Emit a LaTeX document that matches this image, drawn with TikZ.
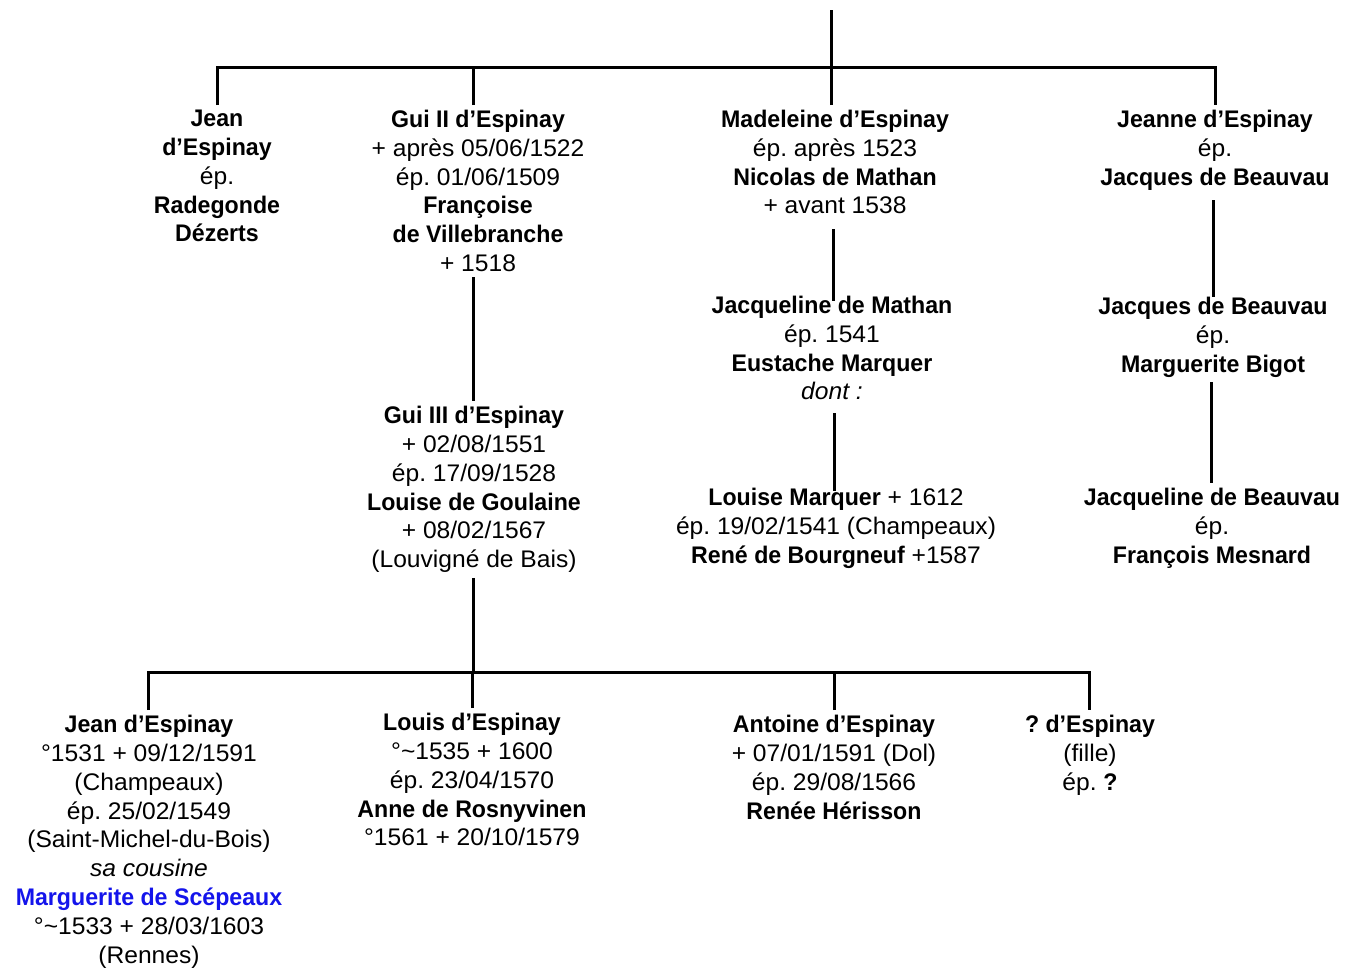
\documentclass[tikz,border=0pt]{standalone}
\usepackage{fontspec}
\setmainfont{Liberation Sans}[FakeStretch=1.025,BoldFeatures={FakeStretch=0.965}]
\frenchspacing
\definecolor{cousineblue}{RGB}{20,20,235}

\begin{document}
\begin{tikzpicture}[x=1pt,y=-1pt,
        person/.style={anchor=north,align=center,inner xsep=0pt,inner ysep=5pt,
            font=\fontsize{24}{28.8}\selectfont},
        link/.style={line width=3pt}]
        \useasboundingbox (0,0) rectangle (1346,967);
        % children of the cut-off couple
        \node[person] (jean) at (217,105) {\textbf{Jean}\\\textbf{d’Espinay}\\ép.\\\textbf{Radegonde}\\\textbf{Dézerts}};
        \node[person] (gui2) at (478,105) {\textbf{Gui II d’Espinay}\\+ après 05/06/1522\\ép. 01/06/1509\\\textbf{Françoise}\\\textbf{de Villebranche}\\+ 1518};
        \node[person] (madeleine) at (835,105) {\textbf{Madeleine d’Espinay}\\ép. après 1523\\\textbf{Nicolas de Mathan}\\+ avant 1538};
        \node[person] (jeanne) at (1215,105) {\textbf{Jeanne d’Espinay}\\ép.\\\textbf{Jacques de Beauvau}};
        % next generations
        \node[person] (gui3) at (474,401) {\textbf{Gui III d’Espinay}\\+ 02/08/1551\\ép. 17/09/1528\\\textbf{Louise de Goulaine}\\+ 08/02/1567\\(Louvigné de Bais)};
        \node[person] (jmathan) at (832,291) {\textbf{Jacqueline de Mathan}\\ép. 1541\\\textbf{Eustache Marquer}\\\textit{dont :}};
        \node[person] (louise) at (836,483) {\textbf{Louise Marquer} + 1612\\ép. 19/02/1541 (Champeaux)\\\textbf{René de Bourgneuf} +1587};
        \node[person] (jacques) at (1213,292) {\textbf{Jacques de Beauvau}\\ép.\\\textbf{Marguerite Bigot}};
        \node[person] (jbeauvau) at (1212,483) {\textbf{Jacqueline de Beauvau}\\ép.\\\textbf{François Mesnard}};
        % children of Gui III
        \node[person] (jean2) at (149,710) {\textbf{Jean d’Espinay}\\°1531 + 09/12/1591\\(Champeaux)\\ép. 25/02/1549\\(Saint-Michel-du-Bois)\\\textit{sa cousine}\\\textcolor{cousineblue}{\textbf{Marguerite de Scépeaux}}\\°\textasciitilde1533 + 28/03/1603\\(Rennes)};
        \node[person] (louis) at (472,708) {\textbf{Louis d’Espinay}\\°\textasciitilde1535 + 1600\\ép. 23/04/1570\\\textbf{Anne de Rosnyvinen}\\°1561 + 20/10/1579};
        \node[person] (antoine) at (834,710) {\textbf{Antoine d’Espinay}\\+ 07/01/1591 (Dol)\\ép. 29/08/1566\\\textbf{Renée Hérisson}};
        \node[person] (fille) at (1090,710) {\textbf{? d’Espinay}\\(fille)\\ép. \textbf{?}};

        \coordinate (root) at (831,10);
        \coordinate (bar1) at (831,67);
        \coordinate (bar2) at (473,672);

        \draw[link] (root) -- (bar1);
        \draw[link] (jean.north) |- (bar1) -| (jeanne.north);
        \draw[link] ([xshift=-5pt]gui2.north) -- ([xshift=-5pt]gui2.north |- bar1);
        \draw[link] ([xshift=-4pt]madeleine.north) -- (bar1);

        \draw[link] ([xshift=-5pt]gui2.south) -- ([xshift=-5pt]gui2.south |- gui3.north);
        \draw[link] ([xshift=-2pt,yshift=-10pt]madeleine.south) -- ([xshift=-2pt,yshift=-10pt]madeleine.south |- jmathan.north);
        \draw[link] ([xshift=2pt,yshift=-8pt]jmathan.south) -- ([xshift=2pt,yshift=-8pt]jmathan.south |- louise.north);
        \draw[link] ([xshift=-2pt,yshift=-5pt]jeanne.south) -- ([xshift=-2pt,yshift=-5pt]jeanne.south |- jacques.north);
        \draw[link] ([xshift=-2pt]jacques.south) -- ([xshift=-2pt]jacques.south |- jbeauvau.north);

        \draw[link] (gui3.south -| bar2) -- (bar2);
        \draw[link] ([xshift=-1pt]jean2.north) |- (bar2) -| ([xshift=-1pt]fille.north);
        \foreach \child in {louis,antoine}
        {   \draw[link] (\child.north) -- (\child.north |- bar2);
        }
        \end{tikzpicture}
\end{document}
